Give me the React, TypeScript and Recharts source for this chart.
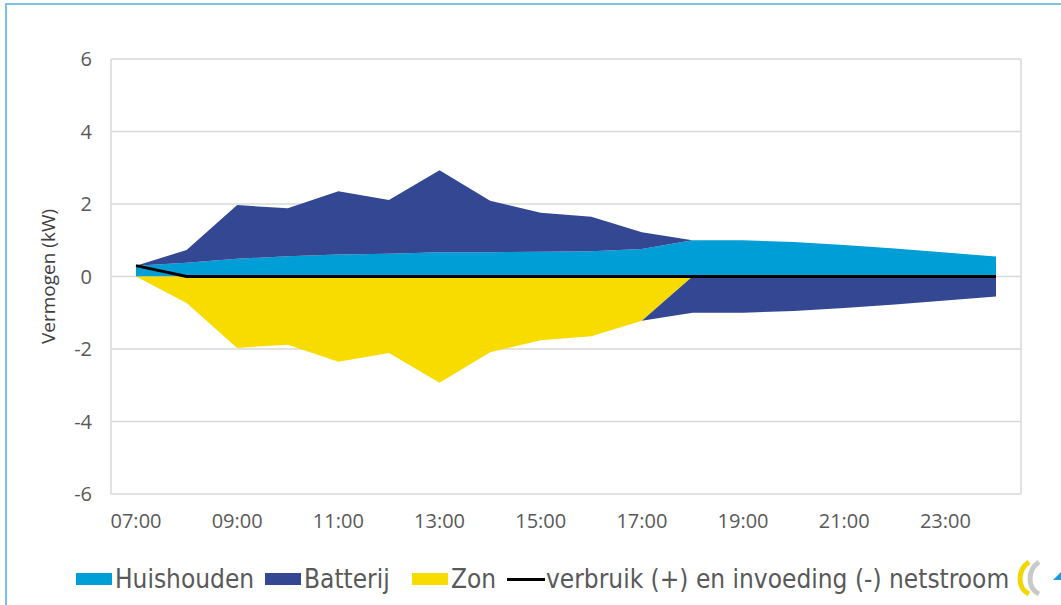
import { ComposedChart, Area, Line, XAxis, YAxis, CartesianGrid } from "recharts";

const hours = [
  "07:00", "08:00", "09:00", "10:00", "11:00", "12:00", "13:00", "14:00", "15:00",
  "16:00", "17:00", "18:00", "19:00", "20:00", "21:00", "22:00", "23:00", "24:00",
];
const huishouden = [0.3, 0.38, 0.49, 0.56, 0.61, 0.63, 0.67, 0.67, 0.68, 0.7, 0.76, 1.0, 1.0, 0.95, 0.87, 0.77, 0.66, 0.55];
const batterij = [0, 0.35, 1.48, 1.32, 1.74, 1.48, 2.26, 1.42, 1.08, 0.95, 0.46, -1.0, -1.0, -0.95, -0.87, -0.77, -0.66, -0.55];
const zon = [0, -0.73, -1.97, -1.88, -2.35, -2.11, -2.93, -2.09, -1.76, -1.65, -1.22, 0, 0, 0, 0, 0, 0, 0];
const netstroom = [0.3, 0, 0, 0, 0, 0, 0, 0, 0, 0, 0, 0, 0, 0, 0, 0, 0, 0];
const yTicks = [-6, -4, -2, 0, 2, 4, 6];

// battery charging stacks on top of the household, discharging stacks below the sun
const data = hours.map((h, i) => ({
  hour: h,
  huishouden: huishouden[i],
  batterijLaden: Math.max(batterij[i], 0),
  batterijOntladen: Math.min(batterij[i], 0),
  zon: zon[i],
  net: netstroom[i],
}));

const COLORS = {
  huishouden: "#009ed6",
  batterij: "#344792",
  zon: "#f8dc00",
  net: "#000000",
};

const legendItems = [
  { label: "Huishouden", color: COLORS.huishouden, type: "rect", x: 76 },
  { label: "Batterij", color: COLORS.batterij, type: "rect", x: 265 },
  { label: "Zon", color: COLORS.zon, type: "rect", x: 412 },
  { label: "verbruik (+) en invoeding (-) netstroom", color: COLORS.net, type: "line", x: 507 },
];

function ChartLegend() {
  return (
    <>
      {legendItems.map((it) => (
        <div
          key={it.label}
          style={{
            position: "absolute",
            left: it.x,
            top: 562,
            height: 34,
            display: "flex",
            alignItems: "center",
            fontFamily: "'DejaVu Sans Condensed', 'DejaVu Sans', sans-serif",
            fontSize: 26,
            color: "#595959",
            whiteSpace: "nowrap",
          }}
        >
          {it.type === "rect" ? (
            <span style={{ display: "inline-block", width: 36, height: 12, background: it.color, marginRight: 3 }} />
          ) : (
            <span style={{ display: "inline-block", width: 38, height: 3, background: it.color, marginRight: 1 }} />
          )}
          <span>{it.label}</span>
        </div>
      ))}
    </>
  );
}

const tickStyle = { fill: "#595959", fontSize: 20, fontFamily: "'Open Sans', sans-serif" };

export default function App() {
  return (
    <div style={{ position: "absolute", left: 0, top: 0, width: 1061, height: 605, background: "#fff", overflow: "hidden" }}>
      <div
        style={{
          position: "absolute",
          left: 5,
          top: 3,
          width: 1100,
          height: 700,
          borderLeft: "2px solid #7cc3ea",
          borderTop: "2px solid #7cc3ea",
        }}
      />
      <ComposedChart
        width={1061}
        height={605}
        data={data}
        margin={{ top: 59, right: 40, left: 0, bottom: 71 }}
        style={{ position: "absolute", left: 0, top: 0 }}
      >
        <CartesianGrid stroke="#d9d9d9" strokeWidth={1.5} verticalPoints={[111, 1021]} />
        <XAxis
          dataKey="hour"
          interval={1}
          padding={{ left: 25, right: 25 }}
          axisLine={false}
          tickLine={false}
          tickSize={0}
          tickMargin={20}
          height={40}
          tick={tickStyle}
        />
        <YAxis
          domain={[-6, 6]}
          ticks={yTicks}
          width={111}
          axisLine={false}
          tickLine={false}
          tickSize={0}
          tickMargin={19}
          tick={tickStyle}
          label={{
            value: "Vermogen (kW)",
            angle: -90,
            position: "insideLeft",
            offset: 48,
            style: { textAnchor: "middle", fill: "#404040", fontSize: 19, fontFamily: "'Open Sans', sans-serif" },
          }}
        />
        <Area
          type="linear"
          dataKey="huishouden"
          name="Huishouden"
          stackId="pos"
          stroke="none"
          fill={COLORS.huishouden}
          fillOpacity={1}
          isAnimationActive={false}
        />
        <Area
          type="linear"
          dataKey="batterijLaden"
          name="Batterij"
          stackId="pos"
          stroke="none"
          fill={COLORS.batterij}
          fillOpacity={1}
          isAnimationActive={false}
        />
        <Area
          type="linear"
          dataKey="zon"
          name="Zon"
          stackId="neg"
          stroke="none"
          fill={COLORS.zon}
          fillOpacity={1}
          isAnimationActive={false}
        />
        <Area
          type="linear"
          dataKey="batterijOntladen"
          name="Batterij"
          stackId="neg"
          stroke="none"
          fill={COLORS.batterij}
          fillOpacity={1}
          isAnimationActive={false}
        />
        <Line
          type="linear"
          dataKey="net"
          name="verbruik (+) en invoeding (-) netstroom"
          stroke={COLORS.net}
          strokeWidth={3}
          dot={false}
          activeDot={false}
          isAnimationActive={false}
        />
      </ComposedChart>
      <ChartLegend />
      <svg width={46} height={40} style={{ position: "absolute", left: 1015, top: 558 }}>
        <path d="M14 4 C2 12 2 30 14 36" stroke="#f2d600" strokeWidth={5} fill="none" />
        <path d="M24 4 C12 12 12 30 24 36" stroke="#c9c9c9" strokeWidth={5} fill="none" />
        <polygon points="38,22 46,22 46,14" fill="#1a9be0" />
      </svg>
    </div>
  );
}
